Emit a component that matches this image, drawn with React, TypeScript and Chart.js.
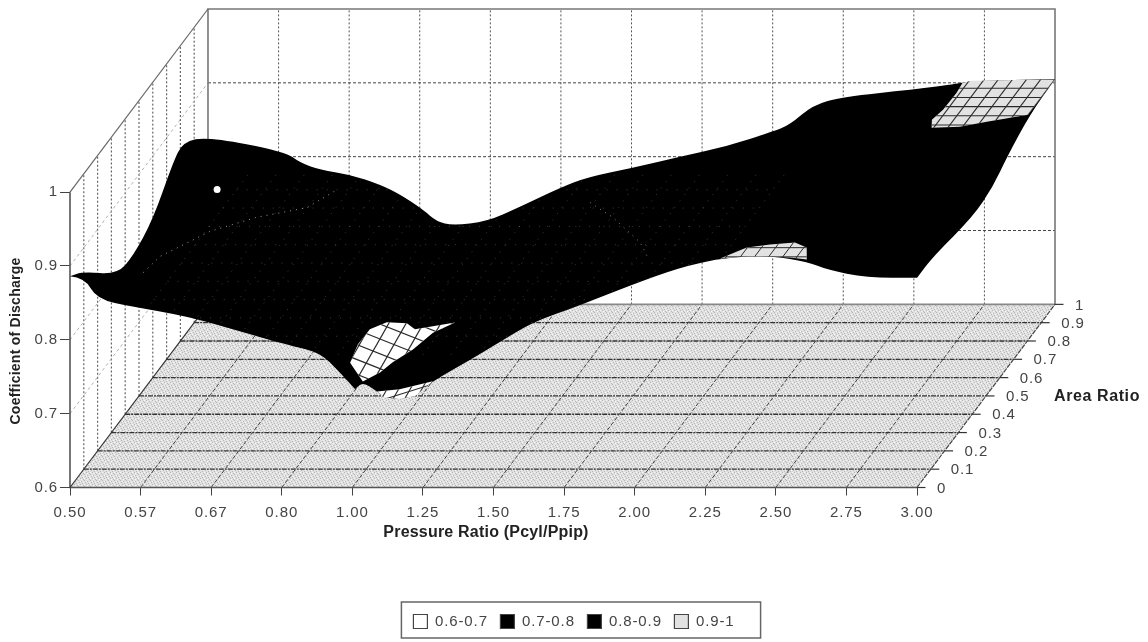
import React, { useEffect, useRef } from "react";
import { Chart, registerables } from "chart.js";

Chart.register(...registerables);

// Axis categories
const pressureLabels = ["0.50","0.57","0.67","0.80","1.00","1.25","1.50","1.75","2.00","2.25","2.50","2.75","3.00"];
const areaLabels = ["0","0.1","0.2","0.3","0.4","0.5","0.6","0.7","0.8","0.9","1"];
const cdTicks = [0.6, 0.7, 0.8, 0.9, 1];
const bandLabels = ["0.6-0.7", "0.7-0.8", "0.8-0.9", "0.9-1"];

// Surface edges: p = pressure category position, a = area ratio, c = coefficient of discharge
const frontP = [0,0.21,0.38,0.89,1.66,2.31,3.16,3.54,3.82,4.04,4.04,4.15,4.35,4.46,4.67,4.89,5.14,5.62,6.09,6.56,7.18,7.97,8.64,9.16,9.59,9.96,10.44,10.72,11.29,12,12];
const frontC = [0.886,0.884,0.855,0.845,0.832,0.814,0.791,0.783,0.756,0.733,0.733,0.743,0.730,0.722,0.720,0.724,0.744,0.770,0.797,0.824,0.845,0.875,0.898,0.909,0.913,0.913,0.906,0.895,0.884,0.884,0.884];
const rightA = [0.116,0.406,0.551,0.652,0.819,1];
const rightC = [0.884,0.866,0.871,0.886,0.902,0.905];
const backP = [0,1.09,1.30,1.59,2.01,2.44,2.72,3.05,3.24,3.47,3.95,4.42,4.99,5.37,6.02,6.69,7.35,8.00,8.24,8.57,8.99,9.99,10.65,10.84,12];
const backC = [0.827,0.807,0.792,0.782,0.776,0.762,0.749,0.728,0.712,0.707,0.712,0.732,0.758,0.772,0.785,0.800,0.814,0.834,0.843,0.870,0.881,0.891,0.899,0.903,0.905];
const leftA = [0.819,0.746,0.601,0.457,0.341,0.094];
const leftC = [0.865,0.855,0.814,0.800,0.804,0.869];

// Boundary between the 0.7-0.8 and 0.8-0.9 bands, read at area ratio 0.5
const contourAP = [0.06,0.30,1.01,1.67,2.38,2.80];
const contourAC = [0.767,0.789,0.823,0.842,0.855,0.879];
const contourBP = [6.39,6.71,7.10,7.20];
const contourBC = [0.862,0.842,0.808,0.789];

// Patches of the 0.9-1 and 0.6-0.7 bands
const cornerP = [10.73,10.85,12,12,11.49,11.16,10.77,10.69,10.74,10.75];
const cornerA = [0.980,0.991,1,0.805,0.767,0.740,0.735,0.778,0.833,0.925];
const cornerC = 0.905;
const ridgeP = [9.13,9.39,9.69,10.02,10.24,10.37,10.11,9.86,9.49];
const ridgeA = [0.041,0.101,0.117,0.128,0.101,0.035,0.046,0.052,0.052];
const ridgeC = 0.9;
const dipP = [3.81,3.78,3.82,3.97,4.21,4.34,4.76,4.57,4.45,4.30,4.22,4.08];
const dipA = [0.081,0.152,0.219,0.265,0.288,0.279,0.356,0.293,0.209,0.139,0.088,0.035];
const dipC = [0.749,0.756,0.760,0.758,0.751,0.745,0.735,0.737,0.735,0.735,0.734,0.735];
const lipP = [4.35,4.46,4.67,4.89,5.14,4.67];
const lipC = [0.730,0.722,0.720,0.724,0.744,0.733];

// Small open spot on the surface
const holeP = 0.52, holeA = 0.8, holeC = 0.805;

// Oblique view of the 3-D box expressed in axis units
const AX = 1.955, AY = 0.248;
const pr = (p: number, a: number, c: number) => ({ x: p + a * AX, y: c + a * AY });
const range = (from: number, to: number, step: number) => {
  const out: number[] = [];
  const n = Math.round((to - from) / step);
  for (let i = 0; i <= n; i++) out.push(from + i * step);
  return out;
};

function floorPattern() {
  const c = document.createElement("canvas");
  c.width = 6; c.height = 6;
  const g = c.getContext("2d")!;
  g.fillStyle = "#e0e0e0"; g.fillRect(0, 0, 6, 6);
  g.fillStyle = "#b8b8b8";
  [[0,0],[3,1],[1,2],[4,3],[2,4],[5,5]].forEach(([x, y]) => g.fillRect(x, y, 1, 1));
  g.fillStyle = "#f8f8f8";
  [[2,1],[5,2],[0,4],[3,5]].forEach(([x, y]) => g.fillRect(x, y, 1, 1));
  return g.createPattern(c, "repeat");
}

function buildDatasets() {
  const ds: any[] = [];
  const line = (data: any[], color: string, width: number, dash: number[] = [], extra: any = {}) => {
    const d = { data, showLine: true, borderColor: color, borderWidth: width, borderDash: dash, pointRadius: 0, tension: 0, clip: false, ...extra };
    ds.push(d);
    return d;
  };
  const poly = (data: any[], fill: any, extra: any = {}) =>
    line([...data, data[0]], "rgba(0,0,0,0)", 0, [], { polyFill: fill, ...extra });

  // floor
  poly([pr(0,0,0.6), pr(12,0,0.6), pr(12,1,0.6), pr(0,1,0.6)], floorPattern());

  // left wall
  range(0.1, 0.9, 0.1).forEach(a => line([pr(0,a,0.6), pr(0,a,1)], "#666", 1.2, [2,2]));
  [0.7,0.8,0.9].forEach(c => line([pr(0,0,c), pr(0,1,c)], "#b0b0b0", 1, [3,3]));
  // back wall
  range(1, 11, 1).forEach(p => line([pr(p,1,0.6), pr(p,1,1)], "#555", 1, [2,2]));
  [0.7,0.8,0.9].forEach(c => line([pr(0,1,c), pr(12,1,c)], "#444", 1, [3,2]));
  // floor rulings
  range(0.1, 0.9, 0.1).forEach(a => line([pr(0,a,0.6), pr(12,a,0.6)], "#333", 1.3, [5,1,2,1]));
  range(1, 11, 1).forEach(p => line([pr(p,0,0.6), pr(p,1,0.6)], "#444", 1, [4,2]));
  // box frame
  line([pr(0,1,0.6), pr(0,1,1), pr(12,1,1), pr(12,1,0.6)], "#777", 1.6);
  line([pr(0,0,1), pr(0,1,1)], "#666", 1.2);
  line([pr(0,0,1), pr(0,0,0.6), pr(12,0,0.6)], "#555", 1.6);
  line([pr(0,1,0.6), pr(12,1,0.6)], "#888", 1.8);
  line([pr(0,0,0.6), pr(0,1,0.6)], "#333", 1.2);
  line([pr(12,0,0.6), pr(12,1,0.6)], "#444", 1.2, [5,1]);
  range(0, 1, 0.1).forEach(a => line([pr(12,a,0.6), { x: pr(12,a,0.6).x + 0.12, y: pr(12,a,0.6).y }], "#333", 1.2));

  // surface silhouette
  const edge = [
    ...frontP.map((p, i) => pr(p, 0, frontC[i])),
    ...rightA.map((a, i) => pr(12, a, rightC[i])),
    ...backP.map((p, i) => pr(p, 1, backC[i])).reverse(),
    ...leftA.map((a, i) => pr(0, a, leftC[i])),
  ];
  const surface = poly(edge, "#000", { smooth: true });

  // faint mesh showing through the dark bands
  const speck = "rgba(255,255,255,0.3)";
  range(0.6, 8.2, 0.4).forEach(p => line([pr(p,0,0.78), pr(p,1,0.78)], speck, 0.8, [1,7], { clipTo: surface }));
  range(0.1, 0.9, 0.1).forEach(a => line([pr(0.6,a,0.78), pr(8.2,a,0.78)], speck, 0.8, [1,9], { clipTo: surface }));
  line(contourAP.map((p, i) => pr(p, 0.5, contourAC[i])), "rgba(255,255,255,0.6)", 1, [1,5]);
  line(contourBP.map((p, i) => pr(p, 0.5, contourBC[i])), "rgba(255,255,255,0.5)", 1, [1,5]);

  ds.push({ data: [pr(holeP, holeA, holeC)], showLine: false, pointRadius: 3.5, pointBackgroundColor: "#fff", pointBorderWidth: 0, clip: false });

  // band patches with their mesh
  const meshInk = "#2a2a2a";
  const corner = poly(cornerP.map((p, i) => pr(p, cornerA[i], cornerC)), "#e2e2e2");
  range(10.6, 12, 0.2).forEach(p => line([pr(p,0.7,cornerC), pr(p,1,cornerC)], meshInk, 1.1, [], { clipTo: corner }));
  range(0.7, 1, 0.05).forEach(a => line([pr(10.6,a,cornerC), pr(12,a,cornerC)], meshInk, 1.1, [], { clipTo: corner }));

  const ridge = poly(ridgeP.map((p, i) => pr(p, ridgeA[i], ridgeC)), "#e2e2e2");
  range(9, 10.4, 0.2).forEach(p => line([pr(p,0,ridgeC), pr(p,0.15,ridgeC)], meshInk, 1, [], { clipTo: ridge }));
  range(0, 0.15, 0.05).forEach(a => line([pr(9,a,ridgeC), pr(10.4,a,ridgeC)], meshInk, 1, [], { clipTo: ridge }));

  const dipPlane = (p: number, a: number) => 0.8876 - 0.038 * p + 0.08 * a;
  const dip = poly(dipP.map((p, i) => pr(p, dipA[i], dipC[i])), "#fff");
  range(3.6, 5, 0.2).forEach(p => line([pr(p,0,dipPlane(p,0)), pr(p,0.4,dipPlane(p,0.4))], meshInk, 1.2, [], { clipTo: dip }));
  range(0, 0.4, 0.05).forEach(a => line([pr(3.6,a,dipPlane(3.6,a)), pr(5,a,dipPlane(5,a))], meshInk, 1.2, [], { clipTo: dip }));

  const lipPlane = (p: number, a: number) => 0.726 + 0.03 * (p - 4.67) + 0.08 * a;
  const lip = poly(lipP.map((p, i) => pr(p, 0, lipC[i])), "#fff");
  range(4, 5.4, 0.2).forEach(p => line([pr(p,-0.1,lipPlane(p,-0.1)), pr(p,0.1,lipPlane(p,0.1))], meshInk, 1.1, [], { clipTo: lip }));
  [-0.05, 0].forEach(a => line([pr(4,a,lipPlane(4,a)), pr(5.4,a,lipPlane(5.4,a))], meshInk, 1.1, [], { clipTo: lip }));

  const n = ds.length;
  ds.forEach((d, i) => { d.order = n - i; });
  return ds;
}

function tracePath(ctx: CanvasRenderingContext2D, meta: any, smooth = false) {
  const pts = meta.data;
  ctx.beginPath();
  if (smooth) {
    ctx.moveTo(pts[0].x, pts[0].y);
    for (let i = 1; i < pts.length - 1; i++) {
      ctx.quadraticCurveTo(pts[i].x, pts[i].y, (pts[i].x + pts[i + 1].x) / 2, (pts[i].y + pts[i + 1].y) / 2);
    }
  } else {
    pts.forEach((pt: any, i: number) => (i ? ctx.lineTo(pt.x, pt.y) : ctx.moveTo(pt.x, pt.y)));
  }
  ctx.closePath();
}

const SPACING = "0.9px";
const surfacePlugin = {
  id: "surfacePatches",
  beforeLayout(chart: any) { chart.ctx.letterSpacing = SPACING; },
  beforeDraw(chart: any) { chart.ctx.letterSpacing = SPACING; },
  beforeDatasetDraw(chart: any, args: any) {
    const d = chart.data.datasets[args.index];
    const ctx = chart.ctx;
    if (d.polyFill) {
      ctx.save();
      tracePath(ctx, args.meta, d.smooth);
      ctx.fillStyle = d.polyFill;
      ctx.fill();
      ctx.restore();
    }
    if (d.clipTo) {
      ctx.save();
      tracePath(ctx, chart.getDatasetMeta(chart.data.datasets.indexOf(d.clipTo)), d.clipTo.smooth);
      ctx.clip();
    }
  },
  afterDatasetDraw(chart: any, args: any) {
    if (chart.data.datasets[args.index].clipTo) chart.ctx.restore();
  },
  afterDraw(chart: any) {
    const { ctx, scales } = chart;
    ctx.save();
    // area ratio axis
    ctx.font = "15px 'Liberation Sans'";
    ctx.fillStyle = "#444";
    ctx.textAlign = "left";
    ctx.textBaseline = "middle";
    areaLabels.forEach((label, i) => {
      const pt = pr(12, i / 10, 0.6);
      ctx.fillText(label, scales.x.getPixelForValue(pt.x) + 20, scales.y.getPixelForValue(pt.y) + 1);
    });
    // titles
    ctx.fillStyle = "#222";
    ctx.font = "bold 16px 'Liberation Sans'";
    ctx.letterSpacing = "0.6px";
    ctx.fillText("Area Ratio", 1054, 397);
    ctx.textAlign = "center";
    ctx.letterSpacing = "0.2px";
    ctx.fillText("Pressure Ratio (Pcyl/Ppip)", 486, 533);
    ctx.translate(16, 341);
    ctx.rotate(-Math.PI / 2);
    ctx.font = "bold 14px 'Liberation Sans'";
    ctx.letterSpacing = "0.25px";
    ctx.fillText("Coefficient of Discharge", 0, 0);
    ctx.restore();
    // legend frame
    ctx.save();
    ctx.strokeStyle = "#666";
    ctx.lineWidth = 1.5;
    const boxes = chart.legend.legendHitBoxes;
    const left = boxes[0].left - 12;
    const right = boxes[3].left + boxes[3].width + 26;
    ctx.strokeRect(left, 602, right - left, 36);
    ctx.restore();
  },
};

export default function App() {
  const ref = useRef<HTMLCanvasElement>(null);
  useEffect(() => {
    const chart = new Chart(ref.current!, {
      type: "scatter",
      data: { datasets: buildDatasets() },
      plugins: [surfacePlugin],
      options: {
        animation: false,
        responsive: false,
        devicePixelRatio: 1,
        layout: { padding: { left: 0, top: 9, right: 0, bottom: 3 } },
        plugins: {
          tooltip: { enabled: false },
          legend: {
            position: "bottom",
            onClick: () => {},
            labels: {
              boxWidth: 14,
              boxHeight: 14,
              padding: 12.5,
              color: "#444",
              font: { family: "'Liberation Sans'", size: 15 },
              generateLabels: () =>
                bandLabels.map((text, i) => ({
                  text,
                  fillStyle: ["#fff", "#000", "#000", "#e2e2e2"][i],
                  strokeStyle: "#444",
                  lineWidth: 1.2,
                  fontColor: "#444",
                  hidden: false,
                  datasetIndex: 0,
                })),
            },
          },
        },
        scales: {
          x: {
            type: "linear",
            min: 0,
            max: 12 + AX,
            border: { display: false },
            grid: { drawOnChartArea: false, drawTicks: true, tickLength: 8, tickColor: "#444" },
            afterBuildTicks: (s: any) => { s.ticks = pressureLabels.map((_, i) => ({ value: i })); },
            afterFit: (s: any) => { s.height = 642 - 9 - 479.5 - 3 - 36.5; s.paddingLeft = 0; s.paddingRight = 0; },
            ticks: {
              autoSkip: false,
              maxRotation: 0,
              padding: 8,
              color: "#444",
              font: { family: "'Liberation Sans'", size: 15 },
              callback: (v: any) => pressureLabels[v] ?? "",
            },
          },
          y: {
            type: "linear",
            min: 0.6,
            max: 1 + AY,
            border: { display: false },
            grid: { drawOnChartArea: false, drawTicks: true, tickLength: 10, tickColor: "#444" },
            afterBuildTicks: (s: any) => { s.ticks = cdTicks.map(value => ({ value })); },
            afterFit: (s: any) => { s.width = 70; s.paddingTop = 0; s.paddingBottom = 0; },
            ticks: {
              autoSkip: false,
              padding: 2,
              color: "#444",
              font: { family: "'Liberation Sans'", size: 15 },
              callback: (v: any) => (Math.abs(v - 1) < 1e-9 ? "1" : Number(v).toFixed(1)),
            },
          },
          gutter: {
            type: "linear",
            position: "right",
            border: { display: false },
            grid: { display: false },
            ticks: { display: false },
            afterFit: (s: any) => { s.width = 93; s.paddingTop = 0; s.paddingBottom = 0; },
          },
        },
      },
    } as any);
    return () => chart.destroy();
  }, []);
  return (
    <canvas
      ref={ref}
      width={1148}
      height={642}
      style={{ position: "fixed", left: 0, top: 0, width: 1148, height: 642, background: "#fff", filter: "blur(0.5px)" }}
    />
  );
}
